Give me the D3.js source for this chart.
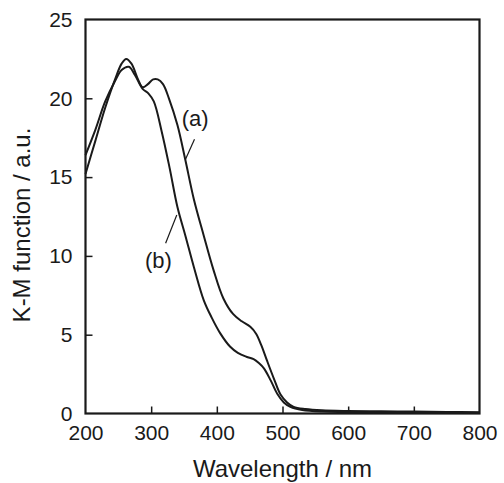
<!DOCTYPE html>
<html>
<head>
<meta charset="utf-8">
<script src="https://cdn.jsdelivr.net/npm/d3@7"></script>
<style>
  body { margin: 0; background: #fff; }
  svg { display: block; font-family: "Liberation Sans", Arial, sans-serif; }
</style>
</head>
<body>
<div id="viz"></div>
<script>
const OUTER_WIDTH = 504;
const OUTER_HEIGHT = 483;
const MARGIN = {
  top: 19.5, right: 24.5, bottom: 69.5, left: 85.5
};

// spectrum (a)
const waveA = [200, 215, 230, 245, 255, 262, 270, 280, 287, 295, 303, 310, 318, 327, 340,
  352, 365, 380, 395, 410, 425, 438, 451, 460, 468, 476, 487, 497, 507, 517, 535,
  560, 600, 650, 700, 750, 800];
const kmA = [15.2, 17.3, 19.4, 21.2, 22.2, 22.5, 22.2, 21.2, 20.7, 20.9, 21.2, 21.2, 20.9,
  20.0, 18.3, 16.1, 13.6, 11.3, 9.1, 7.3, 6.3, 5.85, 5.5, 5.05, 4.3, 3.4, 2.2, 1.2,
  0.7, 0.42, 0.28, 0.2, 0.16, 0.14, 0.12, 0.1, 0.08];

// spectrum (b)
const waveB = [200, 215, 230, 245, 255, 266, 275, 287, 296, 304, 316, 328, 340, 352, 365,
  380, 392, 405, 420, 432, 445, 456, 464, 472, 482, 492, 502, 512, 530, 560,
  600, 700, 800];
const kmB = [16.4, 18.0, 19.8, 21.1, 21.8, 22.0, 21.5, 20.6, 20.3, 19.8, 17.9, 15.6, 13.1,
  11.3, 9.3, 7.2, 6.1, 5.1, 4.25, 3.85, 3.6, 3.45, 3.2, 2.85, 2.1, 1.25, 0.7,
  0.42, 0.22, 0.12, 0.1, 0.07, 0.05];

const xTicks = [200, 300, 400, 500, 600, 700, 800];
const yTicks = [0, 5, 10, 15, 20, 25];

// label text, text anchor and leader line (data units)
const labels = [
  { text: '(a)', x: 367, y: 18.7, from: [366, 17.4], to: [352, 16.1] },
  { text: '(b)', x: 311, y: 9.7, from: [322, 10.8], to: [339, 12.6] }
];

const width = OUTER_WIDTH - MARGIN.left - MARGIN.right;
const height = OUTER_HEIGHT - MARGIN.top - MARGIN.bottom;

const svg = d3.select('#viz')
  .append('svg')
  .attr('width', OUTER_WIDTH)
  .attr('height', OUTER_HEIGHT);

const inner = svg.append('g')
  .attr('transform', `translate(${MARGIN.left}, ${MARGIN.top})`);

const xScale = d3.scaleLinear().domain([200, 800]).range([0, width]);
const yScale = d3.scaleLinear().domain([0, 25]).range([height, 0]);

// axes, ticks point inward
const xAxis = d3.axisBottom(xScale)
  .tickValues(xTicks)
  .tickSizeInner(-7)
  .tickSizeOuter(0)
  .tickPadding(12);
const yAxis = d3.axisLeft(yScale)
  .tickValues(yTicks)
  .tickSizeInner(-7)
  .tickSizeOuter(0)
  .tickPadding(13);

const gx = inner.append('g')
  .attr('transform', `translate(0, ${height})`)
  .call(xAxis);
const gy = inner.append('g').call(yAxis);

[gx, gy].forEach((g) => {
  g.selectAll('text')
    .attr('font-size', 21)
    .attr('font-family', '"Liberation Sans", Arial, sans-serif')
    .attr('fill', '#1a1a1a');
  g.selectAll('.tick line')
    .attr('stroke', '#1a1a1a')
    .attr('stroke-width', 1.5);
  g.select('.domain').remove();
});
// hide ticks sitting on the frame
gx.selectAll('.tick line').filter(d => d === 200 || d === 800).remove();
gy.selectAll('.tick line').filter(d => d === 0 || d === 25).remove();

// frame
inner.append('rect')
  .attr('width', width)
  .attr('height', height)
  .attr('fill', 'none')
  .attr('stroke', '#1a1a1a')
  .attr('stroke-width', 2.2);

// curves
const line = d3.line()
  .x(d => xScale(d[0]))
  .y(d => yScale(d[1]))
  .curve(d3.curveCatmullRom.alpha(0.5));

const series = [
  d3.zip(waveA, kmA),
  d3.zip(waveB, kmB)
];

inner.append('g')
  .selectAll('path')
  .data(series)
  .join('path')
  .attr('d', line)
  .attr('fill', 'none')
  .attr('stroke', '#1a1a1a')
  .attr('stroke-width', 2);

// labels with leader lines
const lab = inner.append('g');
lab.selectAll('line')
  .data(labels)
  .join('line')
  .attr('x1', d => xScale(d.from[0]))
  .attr('y1', d => yScale(d.from[1]))
  .attr('x2', d => xScale(d.to[0]))
  .attr('y2', d => yScale(d.to[1]))
  .attr('stroke', '#1a1a1a')
  .attr('stroke-width', 1.2);
lab.selectAll('text')
  .data(labels)
  .join('text')
  .attr('x', d => xScale(d.x))
  .attr('y', d => yScale(d.y))
  .attr('dy', '0.35em')
  .attr('text-anchor', 'middle')
  .attr('font-size', 22)
  .attr('fill', '#1a1a1a')
  .text(d => d.text);

// axis titles
svg.append('text')
  .attr('x', MARGIN.left + width / 2)
  .attr('y', 477)
  .attr('text-anchor', 'middle')
  .attr('font-size', 24)
  .attr('fill', '#1a1a1a')
  .text('Wavelength / nm');

svg.append('text')
  .attr('transform', 'translate(30, 225) rotate(-90)')
  .attr('text-anchor', 'middle')
  .attr('font-size', 24)
  .attr('fill', '#1a1a1a')
  .text('K-M function / a.u.');
</script>
</body>
</html>
